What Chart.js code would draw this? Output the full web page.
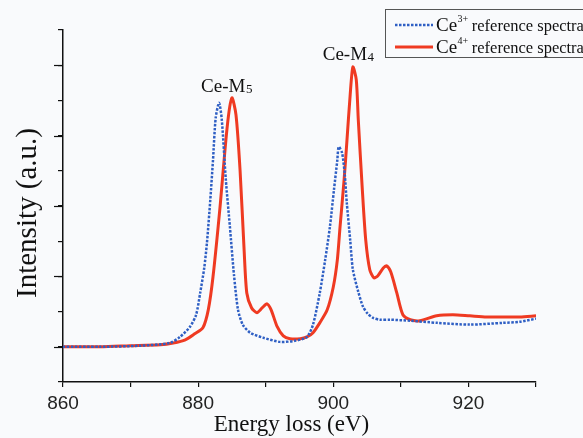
<!DOCTYPE html>
<html>
<head>
<meta charset="utf-8">
<script src="https://cdn.jsdelivr.net/npm/chart.js@4"></script>
<style>
html,body{margin:0;padding:0;background:#f9fafc;}
#wrap{width:583px;height:438px;position:relative;}
</style>
</head>
<body>
<div id="wrap"><canvas id="c" width="583" height="438"></canvas></div>
<script>
// ---- data ----
const ce3Energy = [860, 865.5, 871.4, 875.8, 877.3, 878.8, 879.7, 880.3, 880.9, 881.3, 881.8, 882.2, 882.6, 883.1, 883.5, 884.1, 884.7, 885.3, 885.9, 886.6, 887.7, 889.6, 892.1, 894.3, 896.1, 897.0, 898.0, 898.8, 899.5, 900.1, 900.6, 900.8, 901.3, 901.7, 902.0, 902.5, 902.9, 903.7, 904.4, 905.1, 905.9, 906.9, 908.4, 911.4, 915.4, 920.2, 925.1, 927.6, 930.0];
const ce3Intensity = [0, 0, 0.03, 0.11, 0.28, 0.57, 0.91, 1.53, 2.24, 2.95, 4.18, 5.31, 6.51, 6.93, 6.45, 4.74, 3.41, 2.05, 1.05, 0.63, 0.40, 0.26, 0.14, 0.17, 0.28, 0.63, 1.53, 2.47, 3.41, 4.46, 5.31, 5.68, 5.51, 4.89, 4.09, 3.04, 2.19, 1.56, 1.14, 0.94, 0.82, 0.77, 0.77, 0.74, 0.68, 0.63, 0.68, 0.71, 0.80];

const ce4Energy = [860, 865.5, 869.9, 874.4, 876.3, 878.1, 879.5, 880.7, 881.5, 882.2, 883.2, 884.3, 885.0, 885.6, 886.2, 886.8, 887.2, 887.9, 888.7, 889.5, 890.2, 890.8, 891.7, 892.6, 893.6, 895.1, 896.1, 897.0, 898.0, 899.1, 900.0, 900.6, 901.0, 901.6, 902.0, 902.5, 902.9, 903.4, 903.7, 904.3, 904.8, 905.4, 906.0, 906.6, 907.4, 907.9, 908.5, 909.4, 910.3, 911.4, 912.8, 915.3, 917.7, 920.2, 922.7, 925.1, 927.6, 930.0];
const ce4Intensity = [0, 0, 0.03, 0.06, 0.11, 0.20, 0.37, 0.54, 1.05, 1.99, 3.89, 6.25, 7.07, 6.59, 5.03, 2.76, 1.53, 1.11, 0.97, 1.11, 1.22, 1.05, 0.57, 0.31, 0.23, 0.23, 0.28, 0.40, 0.68, 1.05, 1.70, 2.47, 3.41, 4.74, 5.80, 7.16, 7.95, 7.59, 6.45, 4.46, 3.04, 2.19, 1.96, 2.02, 2.24, 2.30, 2.13, 1.53, 0.91, 0.77, 0.74, 0.88, 0.91, 0.88, 0.85, 0.85, 0.85, 0.88];

const xTickLabels = [860, 880, 900, 920];
const xTitle = 'Energy loss (eV)';
const yTitle = 'Intensity (a.u.)';
const seriesNames = ['reference spectra', 'reference spectra'];
const seriesIons = [['Ce', '3+'], ['Ce', '4+']];
const peakLabels = [{main: 'Ce-M', sub: '5', x: 884.2, y: 7.44}, {main: 'Ce-M', sub: '4', x: 902.2, y: 8.35}];

const BLUE = '#2f5fc4';
const RED = '#ef3a22';
const SERIF = '"Liberation Serif", "Times New Roman", serif';
const SANS = '"Liberation Sans", Arial, sans-serif';

const toXY = (xs, ys) => xs.map((x, i) => ({x: x, y: ys[i]}));

const extras = {
  id: 'extras',
  afterDatasetsDraw(chart) {
    const ctx = chart.ctx;
    const xs = chart.scales.x, ys = chart.scales.y;
    ctx.save();
    // longer marks for the major y ticks
    ctx.strokeStyle = '#111';
    ctx.lineWidth = 1.2;
    [0, 2, 4, 6, 8].forEach(v => {
      const py = Math.round(ys.getPixelForValue(v)) + 0.5;
      ctx.beginPath();
      ctx.moveTo(ys.right - 9, py);
      ctx.lineTo(ys.right, py);
      ctx.stroke();
    });
    // axis titles
    ctx.fillStyle = '#111';
    ctx.textAlign = 'center';
    ctx.textBaseline = 'middle';
    ctx.font = '23px ' + SERIF;
    ctx.fillText(xTitle, 291.5, 425);
    ctx.save();
    ctx.translate(28, 213);
    ctx.rotate(-Math.PI / 2);
    ctx.font = '29px ' + SERIF;
    ctx.fillText(yTitle, 0, 0);
    ctx.restore();
    // peak labels
    ctx.textBaseline = 'alphabetic';
    peakLabels.forEach(p => {
      const big = '19px ' + SERIF, small = '13px ' + SERIF;
      ctx.font = big;
      const w1 = ctx.measureText(p.main).width;
      ctx.font = small;
      const w2 = ctx.measureText(p.sub).width;
      const cx = xs.getPixelForValue(p.x), cy = ys.getPixelForValue(p.y);
      const left = cx - (w1 + w2) / 2;
      ctx.font = big; ctx.textAlign = 'left';
      ctx.fillText(p.main, left, cy + 7);
      ctx.font = small;
      ctx.fillText(p.sub, left + w1 + 0.5, cy + 8);
    });
    // legend box
    ctx.strokeStyle = '#555';
    ctx.lineWidth = 1;
    ctx.strokeRect(385.5, 9.5, 260, 48);
    const rows = [25, 47];
    const colors = [BLUE, RED];
    rows.forEach((ry, i) => {
      ctx.beginPath();
      ctx.strokeStyle = colors[i];
      if (i === 0) { ctx.setLineDash([2.5, 1.5]); ctx.lineWidth = 2.5; }
      else { ctx.setLineDash([]); ctx.lineWidth = 3; }
      ctx.moveTo(395, ry); ctx.lineTo(433, ry);
      ctx.stroke();
      ctx.setLineDash([]);
      ctx.fillStyle = '#111';
      ctx.textAlign = 'left';
      ctx.textBaseline = 'alphabetic';
      let x = 436;
      ctx.font = '19px ' + SERIF;
      ctx.fillText(seriesIons[i][0], x, ry + 6);
      x += ctx.measureText(seriesIons[i][0]).width + 0.5;
      ctx.font = '10px ' + SERIF;
      ctx.fillText(seriesIons[i][1], x, ry - 3);
      x += ctx.measureText(seriesIons[i][1]).width + 3.5;
      ctx.font = '16.5px ' + SERIF;
      ctx.fillText(seriesNames[i], x, ry + 6);
    });
    ctx.restore();
  }
};

new Chart(document.getElementById('c'), {
  type: 'line',
  data: {
    datasets: [
      {
        label: 'Ce3+ reference spectra',
        data: toXY(ce3Energy, ce3Intensity),
        borderColor: BLUE,
        borderWidth: 2.5,
        borderDash: [2.5, 1.5],
        pointRadius: 0,
        tension: 0.25,
        fill: false
      },
      {
        label: 'Ce4+ reference spectra',
        data: toXY(ce4Energy, ce4Intensity),
        borderColor: RED,
        borderWidth: 3,
        pointRadius: 0,
        tension: 0.25,
        fill: false
      }
    ]
  },
  options: {
    responsive: false,
    animation: false,
    layout: {padding: {top: 30, right: 47, left: 0, bottom: 0}},
    plugins: {legend: {display: false}, tooltip: {enabled: false}},
    scales: {
      x: {
        type: 'linear',
        min: 860, max: 930,
        afterFit: s => { s.height = 56; },
        border: {display: true, color: '#111', width: 1.5},
        grid: {display: true, drawOnChartArea: false, drawTicks: true, tickLength: 5, color: '#111', lineWidth: 1.2},
        ticks: {
          stepSize: 10,
          padding: 5,
          color: '#222',
          font: {family: SANS, size: 19},
          callback: v => xTickLabels.includes(v) ? String(v) : ''
        },
        title: {display: false}
      },
      y: {
        min: -1, max: 9,
        afterFit: s => { s.width = 63; },
        border: {display: true, color: '#111', width: 1.5},
        grid: {display: true, drawOnChartArea: false, drawTicks: true, tickLength: 5, color: '#111', lineWidth: 1.2},
        ticks: {stepSize: 1, display: false},
        title: {display: false}
      }
    }
  },
  plugins: [extras]
});
</script>
</body>
</html>
